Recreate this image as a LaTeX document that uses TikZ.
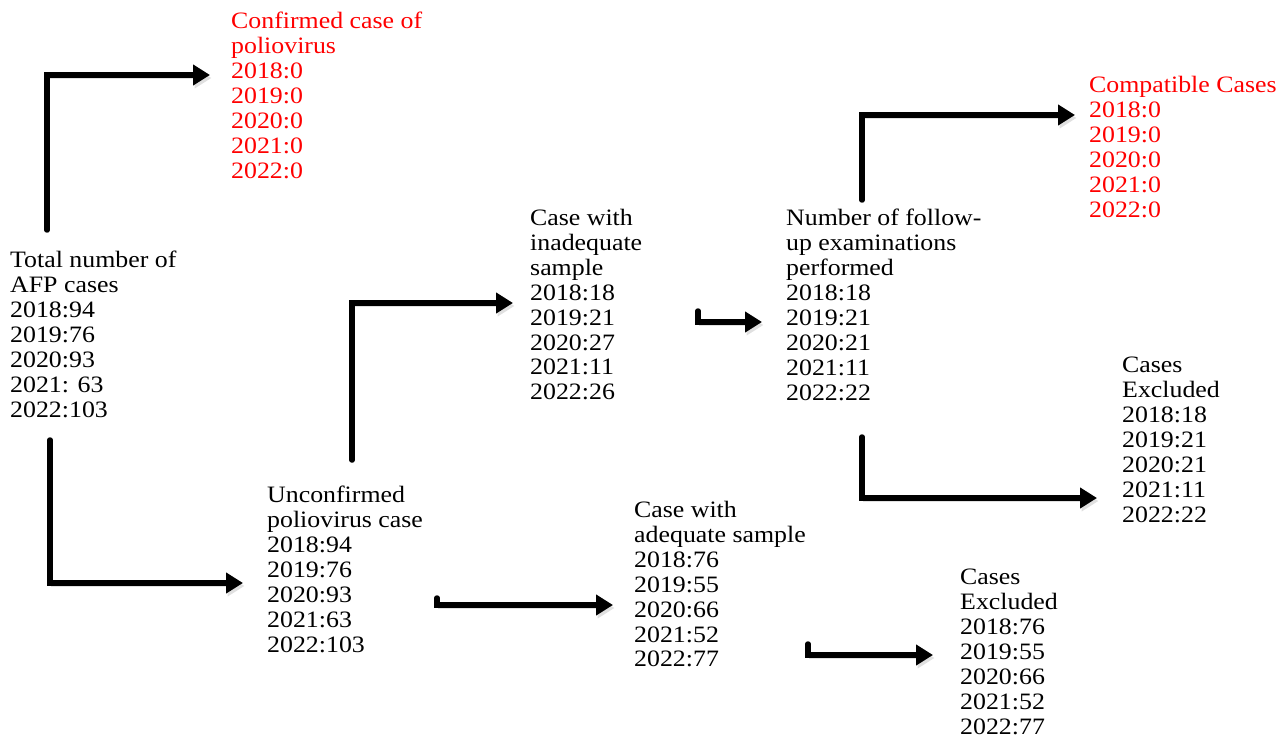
\documentclass[tikz,border=0pt]{standalone}
\usepackage{fontspec}
\setmainfont[FakeStretch=1.1]{Liberation Serif}
\usetikzlibrary{arrows.meta}

\begin{document}
\begin{tikzpicture}[
  x=1pt, y=-1pt,
  txtblock/.style={
    anchor=north west,
    inner sep=0pt,
    align=left,
    font=\fontsize{23.5}{24.9}\selectfont
  },
  redblock/.style={
    txtblock,
    text=red
  },
  flow/.style={
    line width=5.5pt,
    line cap=round,
    -{Triangle[length=17pt,width=20pt]},
    preaction={draw=black!12, transform canvas={shift={(1.5pt,-3pt)}}}
  }]
  \useasboundingbox (0,0) rectangle (1288,738);
  % text blocks
  \node[txtblock] (total) at (10,251) {Total number of\\AFP cases\\2018:94\\2019:76\\2020:93\\2021: 63\\2022:103};
  \node[redblock] (confirmed) at (231,12) {Confirmed case of\\poliovirus\\2018:0\\2019:0\\2020:0\\2021:0\\2022:0};
  \node[txtblock] (unconf) at (267,486) {Unconfirmed\\poliovirus case\\2018:94\\2019:76\\2020:93\\2021:63\\2022:103};
  \node[txtblock] (inadeq) at (530,209) {Case with\\inadequate\\sample\\2018:18\\2019:21\\2020:27\\2021:11\\2022:26};
  \node[txtblock] (adeq) at (634,501) {Case with\\adequate sample\\2018:76\\2019:55\\2020:66\\2021:52\\2022:77};
  \node[txtblock] (followup) at (786,209) {Number of follow-\\up examinations\\performed\\2018:18\\2019:21\\2020:21\\2021:11\\2022:22};
  \node[redblock] (compat) at (1089,76) {Compatible Cases\\2018:0\\2019:0\\2020:0\\2021:0\\2022:0};
  \node[txtblock] (exclA) at (1122,357) {Cases\\Excluded\\2018:18\\2019:21\\2020:21\\2021:11\\2022:22};
  \node[txtblock] (exclB) at (960,569) {Cases\\Excluded\\2018:76\\2019:55\\2020:66\\2021:52\\2022:77};
  % arrows
  \draw[flow] ([shift={(37,-21)}]total.north west) |- ([shift={(-21,63)}]confirmed.north west);
  \draw[flow] ([shift={(40,189)}]total.north west) |- ([shift={(-24,97)}]unconf.north west);
  \draw[flow] ([shift={(85,-26)}]unconf.north west) |- ([shift={(-17,94)}]inadeq.north west);
  \draw[flow] ([shift={(170,112)}]unconf.north west) -- ++(0,7) -- ([shift={(-21,104)}]adeq.north west);
  \draw[flow] ([shift={(168,102)}]inadeq.north west) -- ++(0,11) -- ([shift={(-24,113)}]followup.north west);
  \draw[flow] ([shift={(174,143)}]adeq.north west) -- ++(0,11) -- ([shift={(-27,86)}]exclB.north west);
  \draw[flow] ([shift={(76,-9)}]followup.north west) |- ([shift={(-14,39)}]compat.north west);
  \draw[flow] ([shift={(76,228)}]followup.north west) |- ([shift={(-25,141)}]exclA.north west);
\end{tikzpicture}
\end{document}
